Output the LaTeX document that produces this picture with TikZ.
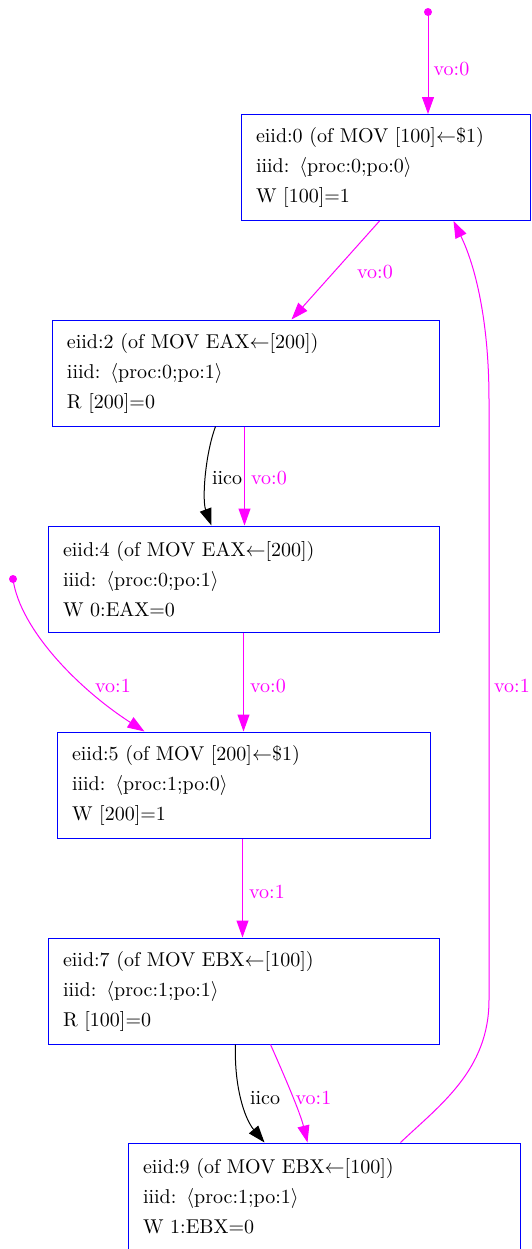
\documentclass[tikz,border=0pt]{standalone}
\usetikzlibrary{arrows.meta,calc}
\definecolor{mg}{RGB}{255,0,255}
\definecolor{bx}{RGB}{0,0,255}
\begin{document}
\begin{tikzpicture}[x=0.5pt,y=-0.5pt,
  ev/.style={draw=bx, line width=0.5pt, rectangle, align=left, inner xsep=7.5pt, inner ysep=0pt, minimum height=53pt, font=\fontsize{10}{15}\selectfont},
  dotnode/.style={circle, fill=mg, inner sep=0pt, minimum size=4pt},
  arr/.style={line width=0.5pt, -{Triangle[length=8.5pt,width=6pt]}},
  vo/.style={arr, draw=mg},
  iico/.style={arr, draw=black},
  lab/.style={inner sep=0pt, font=\fontsize{10}{12}\selectfont},
  vol/.style={lab, text=mg},
  iil/.style={lab, text=black}]
\useasboundingbox (0,0) rectangle (531,1249);

\node[ev, text width=129.5pt] (b0) at (385.5,167.5) {eiid:0 (of MOV [100]$\leftarrow$\$1)\\iiid: $\langle$proc:0;po:0$\rangle$\\W [100]=1};
\node[ev, text width=178.5pt] (b2) at (245.5,373) {eiid:2 (of MOV EAX$\leftarrow$[200])\\iiid: $\langle$proc:0;po:1$\rangle$\\R [200]=0};
\node[ev, text width=180.5pt] (b4) at (243.5,579) {eiid:4 (of MOV EAX$\leftarrow$[200])\\iiid: $\langle$proc:0;po:1$\rangle$\\W 0:EAX=0};
\node[ev, text width=171.5pt] (b5) at (243.5,785) {eiid:5 (of MOV [200]$\leftarrow$\$1)\\iiid: $\langle$proc:1;po:0$\rangle$\\W [200]=1};
\node[ev, text width=180.5pt] (b7) at (243.5,991) {eiid:7 (of MOV EBX$\leftarrow$[100])\\iiid: $\langle$proc:1;po:1$\rangle$\\R [100]=0};
\node[ev, text width=181pt] (b9) at (324,1196) {eiid:9 (of MOV EBX$\leftarrow$[100])\\iiid: $\langle$proc:1;po:1$\rangle$\\W 1:EBX=0};

\node[dotnode] (d0) at (428,12) {};
\node[dotnode] (d1) at (13,579) {};

% dot -> b0
\draw[vo] (d0.center) -- (b0.north -| d0) node[vol] at (451.5,69) {vo:0};
% b0 -> b2
\draw[vo] ($(b0.south west)+(139,0)$) -- ($(b2.north west)+(240,0)$) node[vol] at (375,272) {vo:0};
% b2 -> b4 iico
\draw[iico] ($(b2.south west)+(164,0)$) .. controls (205,455) and (202,500) .. ($(b4.north west)+(164,0)$) node[iil] at (227,478) {iico};
% b2 -> b4 vo
\draw[vo] ($(b2.south west)+(193,0)$) -- ($(b4.north west)+(197,0)$) node[vol] at (269,478) {vo:0};
% dot -> b5
\draw[vo] (d1.center) .. controls (20,630) and (80,690) .. ($(b5.north west)+(88,0)$) node[vol] at (113,686) {vo:1};
% b4 -> b5
\draw[vo] ($(b4.south west)+(196,0)$) -- ($(b5.north west)+(187,0)$) node[vol] at (268,686) {vo:0};
% b5 -> b7
\draw[vo] ($(b5.south west)+(186,0)$) -- ($(b7.north west)+(195,0)$) node[vol] at (267,892) {vo:1};
% b7 -> b9 iico
\draw[iico] ($(b7.south west)+(188,0)$) .. controls (234,1085) and (244,1118) .. ($(b9.north west)+(137,0)$) node[iil] at (265,1098) {iico};
% b7 -> b9 vo
\draw[vo] ($(b7.south west)+(223,0)$) .. controls (284,1075) and (300,1112) .. ($(b9.north west)+(180,0)$) node[vol] at (313.5,1098) {vo:1};
% b9 -> b0
\draw[vo] ($(b9.north west)+(273,0)$) .. controls (440,1105) and (489,1070) .. (489,1000) -- (489,400) .. controls (489,320) and (475,265) .. ($(b0.south west)+(213,0)$) node[vol] at (512,686) {vo:1};
\end{tikzpicture}
\end{document}
